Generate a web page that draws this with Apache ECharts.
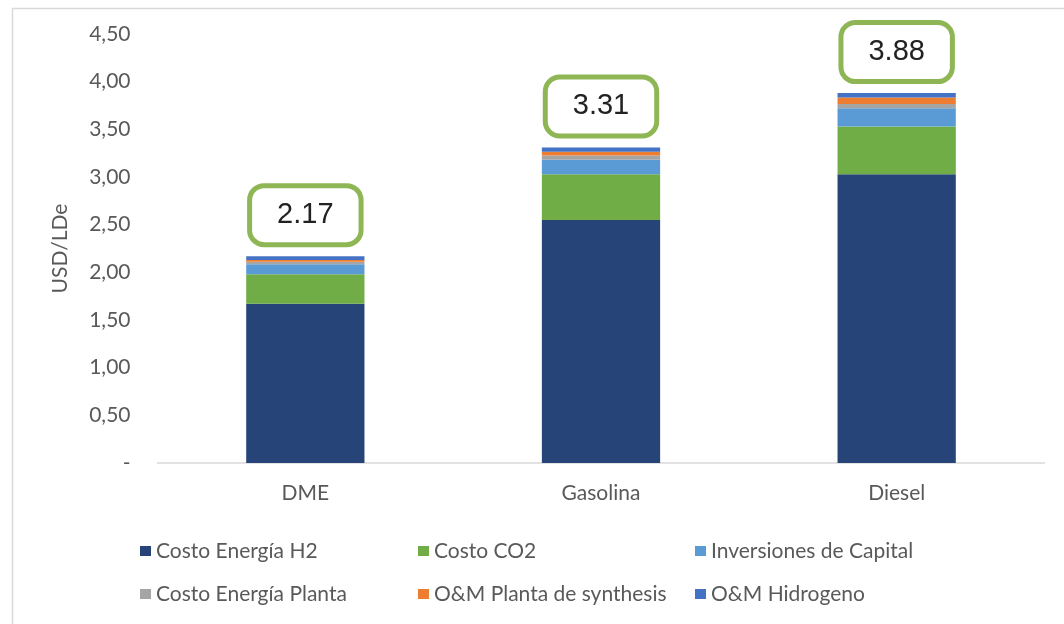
<!DOCTYPE html>
<html>
<head>
<meta charset="utf-8">
<title>Costo USD/LDe</title>
<script src="https://cdn.jsdelivr.net/npm/echarts@6/dist/echarts.min.js"></script>
<style>
  html, body { margin: 0; padding: 0; background: #ffffff; }
  #chart { width: 1064px; height: 624px; }
</style>
</head>
<body>
<div id="chart"></div>
<script>
// Categories and cost components (USD per litre of diesel equivalent)
const categories = ['DME', 'Gasolina', 'Diesel'];
const costoEnergiaH2 = [1.67, 2.55, 3.03];
const costoCO2 = [0.31, 0.48, 0.50];
const inversionesCapital = [0.105, 0.15, 0.19];
const costoEnergiaPlanta = [0.025, 0.045, 0.045];
const omPlantaSynthesis = [0.02, 0.04, 0.07];
const omHidrogeno = [0.04, 0.045, 0.045];
const yTicks = { min: 0, max: 4.5, interval: 0.5 };

const seriesDefs = [
  { name: 'Costo Energía H2', data: costoEnergiaH2, color: '#264478' },
  { name: 'Costo CO2', data: costoCO2, color: '#70AD47' },
  { name: 'Inversiones de Capital', data: inversionesCapital, color: '#5B9BD5' },
  { name: 'Costo Energía Planta', data: costoEnergiaPlanta, color: '#A5A5A5' },
  { name: 'O&M Planta de synthesis', data: omPlantaSynthesis, color: '#ED7D31' },
  { name: 'O&M Hidrogeno', data: omHidrogeno, color: '#4472C4' }
];

const totals = categories.map((_, i) =>
  seriesDefs.reduce((s, d) => s + d.data[i], 0));

const FONT = 'Lato';
const TXT = '#595959';

const series = seriesDefs.map((d, idx) => {
  const s = {
    name: d.name,
    type: 'bar',
    stack: 'total',
    barCategoryGap: '60%',
    data: d.data,
    itemStyle: { color: d.color },
    emphasis: { disabled: true }
  };
  if (idx === seriesDefs.length - 1) {
    s.label = {
      show: true,
      position: 'top',
      distance: 14,
      formatter: p => totals[p.dataIndex].toFixed(2),
      fontFamily: 'Liberation Sans',
      fontSize: 29,
      lineHeight: 30,
      color: '#222222',
      backgroundColor: '#ffffff',
      borderColor: '#8FB655',
      borderWidth: 5,
      borderRadius: 12,
      padding: [12, 25, 12, 25]
    };
  }
  return s;
});

const legendText = { fontFamily: FONT, fontSize: 21, lineHeight: 22, color: TXT };
const legendCommon = {
  orient: 'vertical',
  top: 535,
  itemWidth: 11,
  itemHeight: 10,
  itemGap: 21,
  icon: 'rect',
  textStyle: legendText,
  selectedMode: false
};

const chart = echarts.init(document.getElementById('chart'), null, { renderer: 'canvas' });
chart.setOption({
  backgroundColor: '#ffffff',
  animation: false,
  graphic: [{
    type: 'rect',
    left: 10, top: 6,
    shape: { width: 1100, height: 700 },
    style: { fill: 'none', stroke: '#d9d9d9', lineWidth: 1.5 },
    silent: true
  }],
  grid: { left: 157.5, right: 19.5, top: 34, bottom: 161, containLabel: false },
  legend: [
    Object.assign({ left: 135, data: [seriesDefs[0].name, seriesDefs[3].name] }, legendCommon),
    Object.assign({ left: 413, data: [seriesDefs[1].name, seriesDefs[4].name] }, legendCommon),
    Object.assign({ left: 690, data: [seriesDefs[2].name, seriesDefs[5].name] }, legendCommon)
  ],
  xAxis: {
    type: 'category',
    data: categories,
    axisLine: { show: true, lineStyle: { color: '#d9d9d9', width: 1.5 } },
    axisTick: { show: false },
    axisLabel: { fontFamily: FONT, fontSize: 21, color: TXT, margin: 20 }
  },
  yAxis: {
    type: 'value',
    min: yTicks.min,
    max: yTicks.max,
    interval: yTicks.interval,
    name: 'USD/LDe',
    nameLocation: 'middle',
    nameGap: 87,
    nameRotate: 90,
    nameTextStyle: { fontFamily: FONT, fontSize: 21, color: TXT },
    axisLine: { show: false },
    axisTick: { show: false },
    splitLine: { show: false },
    axisLabel: {
      fontFamily: FONT, fontSize: 21, color: TXT, margin: 27,
      formatter: v => v === 0 ? '-' : v.toFixed(2).replace('.', ',')
    }
  },
  series: series
});
</script>
</body>
</html>
